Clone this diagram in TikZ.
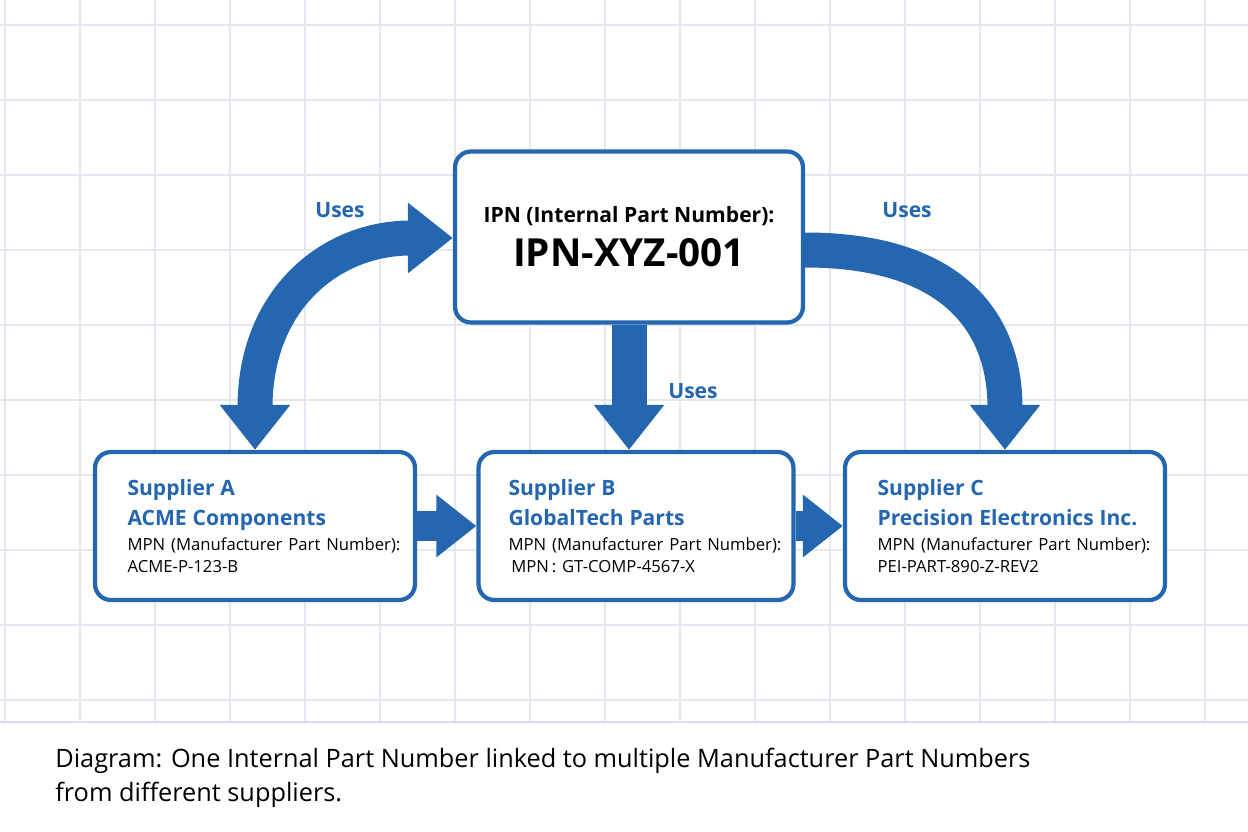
\documentclass[tikz,border=0pt]{standalone}
\usepackage{fontspec}
\setmainfont{Open Sans}
\usetikzlibrary{arrows.meta,positioning,calc}
\definecolor{flowblue}{HTML}{2466B0}
\definecolor{gridline}{HTML}{E3E8F0}
\tikzset{
  box/.style={draw=flowblue,line width=2.4pt,rounded corners=9pt,fill=white,align=left,inner xsep=0.6cm},
  supplier/.style={box,minimum width=6.4cm,minimum height=2.96cm,text width=5.1cm},
  bigarrow/.style={draw=flowblue,line width=0.7cm,-{Triangle[width=1.35cm,length=0.9cm]}},
  uses/.style={font=\bfseries\fontsize{12}{14}\selectfont,text=flowblue}
}
\newcommand{\suptitle}[2]{{\color{flowblue}\bfseries\fontsize{12}{17}\selectfont\mbox{#1}\\\mbox{#2}\par}\vspace{2pt}}
\newcommand{\mpnline}[1]{{\fontsize{9.5}{12.5}\selectfont\mbox{MPN (Manufacturer Part Number):}\\\mbox{#1}\par}}
\begin{document}
\begin{tikzpicture}[x=0.02cm,y=-0.02cm]
    \useasboundingbox (0,0) rectangle (1248,832);
    % grid
    \foreach \gx in {5,80,...,1230} \draw[gridline,line width=0.8pt] (\gx,0) -- (\gx,722);
    \foreach \gy in {25,100,...,700} \draw[gridline,line width=0.8pt] (0,\gy) -- (1248,\gy);
    \draw[gridline!70!blue!40,line width=1pt] (0,722) -- (1248,722);

    % boxes
    \node[box,minimum width=6.96cm,minimum height=3.42cm,align=center,inner xsep=0.2cm] (ipn) at (629,237)
      {{\bfseries\fontsize{12}{16}\selectfont IPN (Internal Part Number):}\\[6pt]{\bfseries\fontsize{22}{26}\selectfont IPN-XYZ-001}};
    \node[supplier] (supA) at (255,526) {\suptitle{Supplier A}{ACME Components}\mpnline{ACME-P-123-B}};
    \node[supplier,minimum width=6.22cm] (supB) at (636,526) {\suptitle{Supplier B}{GlobalTech Parts}\mpnline{\,MPN\,: GT-COMP-4567-X}};
    \node[supplier] (supC) at (1005,526) {\suptitle{Supplier C}{Precision Electronics Inc.}\mpnline{PEI-PART-890-Z-REV2}};

    % arrows
    \draw[bigarrow,{Triangle[width=1.35cm,length=0.9cm]}-{Triangle[width=1.35cm,length=0.9cm]}]
      (supA.north) .. controls (255,300) and (330,238) .. (ipn.west |- 0,238);
    \draw[bigarrow] (ipn.east |- 0,250) .. controls (950,250) and (1005,320) .. (supC.north);
    \draw[bigarrow] (ipn.south) -- (ipn.south |- supB.north);
    \draw[bigarrow,line width=0.6cm,-{Triangle[width=1.2cm,length=0.8cm]}] (supA.east) -- (supB.west);
    \draw[bigarrow,line width=0.6cm,-{Triangle[width=1.2cm,length=0.8cm]}] (supB.east) -- (supC.west);

    % labels
    \node[uses] (usesL) at (340,210) {Uses};
    \node[uses] (usesR) at (907,210) {Uses};
    \node[uses] (usesM) at (693,391) {Uses};

    % caption
    \node[anchor=north west,align=left,font=\fontsize{14.4}{19}\selectfont,inner sep=0pt] (caption) at (55,748)
      {Diagram: One Internal Part Number linked to multiple Manufacturer Part Numbers\\from different suppliers.};
\end{tikzpicture}
\end{document}
